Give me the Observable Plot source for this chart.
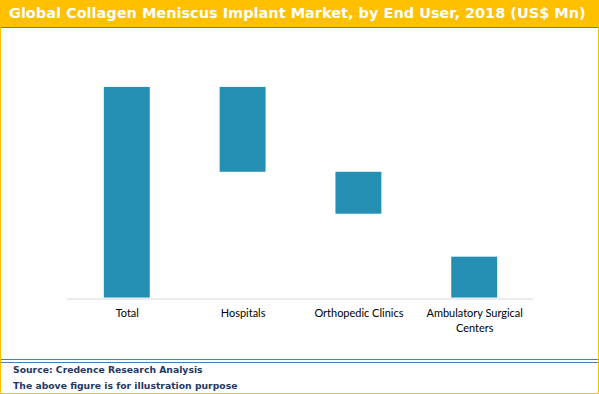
<!DOCTYPE html>
<html>
<head>
<meta charset="utf-8">
<script src="https://cdn.jsdelivr.net/npm/d3@7"></script>
<script src="https://cdn.jsdelivr.net/npm/@observablehq/plot@0.6"></script>
<style>
  html, body { margin: 0; padding: 0; background: #fff; }
  #frame { position: relative; width: 599px; height: 394px; box-sizing: border-box; border: 1px solid #FFC000; border-top: none; overflow: hidden; background: #fff; }
  #title { position: absolute; left: -1px; top: 0; width: 599px; height: 27px; background: #FFC000; border-bottom: 1px solid #4F81BD; color: #fff; font: bold 14.5px "DejaVu Sans", Verdana, sans-serif; line-height: 27px; padding-left: 9px; white-space: nowrap; }
  #chart { position: absolute; left: -1px; top: 28px; }
  #rule1 { position: absolute; left: 0; top: 359px; width: 599px; height: 1px; background: #4A7EBB; }
  #rule2 { position: absolute; left: 0; top: 362px; width: 599px; height: 1px; background: #4A7EBB; }
  .foot { position: absolute; left: 12px; color: #1F3864; font: bold 9.25px "DejaVu Sans", Verdana, sans-serif; white-space: nowrap; }
</style>
</head>
<body>
<div id="frame">
  <div id="title">Global Collagen Meniscus Implant Market, by End User, 2018 (US$ Mn)</div>
  <div id="chart"></div>
  <div id="rule1"></div>
  <div id="rule2"></div>
  <div class="foot" style="top:364px">Source: Credence Research Analysis</div>
  <div class="foot" style="top:380px">The above figure is for illustration purpose</div>
</div>
<script>
const categories = ["Total", "Hospitals", "Orthopedic Clinics", "Ambulatory Surgical Centers"];
const tickLabels = ["Total", "Hospitals", "Orthopedic Clinics", "Ambulatory Surgical\nCenters"];
const barLow  = [0, 59.7, 39.8, 0];
const barHigh = [100, 100, 59.7, 19.4];

const rows = categories.map((c, i) => ({cat: c, low: barLow[i], high: barHigh[i]}));
const labelOf = new Map(categories.map((c, i) => [c, tickLabels[i]]));

const chart = Plot.plot({
  width: 599,
  height: 330,
  marginTop: 0,
  marginLeft: 0,
  marginRight: 0,
  marginBottom: 59,
  style: {background: "transparent", fontFamily: "Lato, 'Liberation Sans', sans-serif", fontSize: "11px", color: "#000"},
  x: {domain: categories, range: [67.75, 533.75], paddingInner: 0.605, paddingOuter: 0.3025, axis: null, label: null},
  y: {domain: [0, 100], range: [270, 59], axis: null},
  marks: [
    Plot.barY(rows, {x: "cat", y1: "low", y2: "high", fill: "#248FB2"}),
    Plot.ruleY([0], {stroke: "#D9D9D9", strokeWidth: 1, dy: 1, insetLeft: 67, insetRight: 65}),
    Plot.axisX({anchor: "bottom", tickSize: 0, tickPadding: 8, label: null, tickFormat: d => labelOf.get(d), fontSize: 11, fill: "#000", lineHeight: 1.32})
  ]
});
document.getElementById("chart").appendChild(chart);
</script>
</body>
</html>
